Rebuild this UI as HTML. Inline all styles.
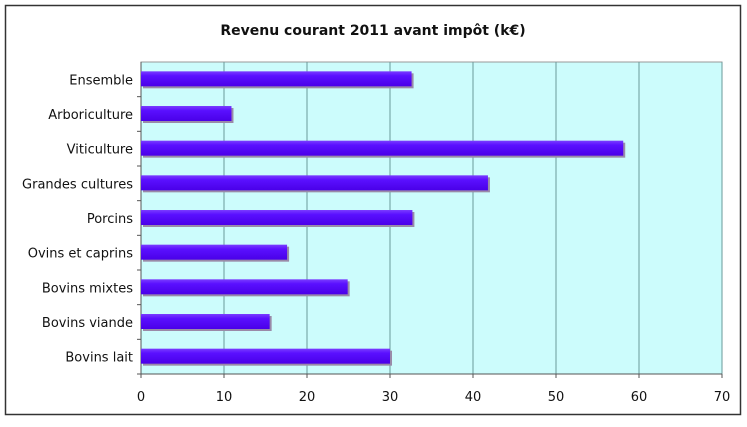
<!DOCTYPE html>
<html><head><meta charset="utf-8"><style>
body{margin:0;background:#fff;width:747px;height:423px;overflow:hidden;font-family:"DejaVu Sans","Liberation Sans",sans-serif;}
</style></head><body>
<svg width="747" height="423">
<defs><linearGradient id="g" x1="0" y1="0" x2="0" y2="1"><stop offset="0" stop-color="#7a3cff"/><stop offset="0.3" stop-color="#5a10ff"/><stop offset="1" stop-color="#4a00e8"/></linearGradient></defs>
<rect x="5.5" y="5.5" width="735" height="409" fill="#fff" stroke="#333" stroke-width="1.5"/>
<text x="373" y="35" text-anchor="middle" font-size="14" font-weight="bold" fill="#111">Revenu courant 2011 avant impôt (k€)</text>
<g id="plot"></g>
</svg>
<script>
const categories=["Ensemble","Arboriculture","Viticulture","Grandes cultures","Porcins","Ovins et caprins","Bovins mixtes","Bovins viande","Bovins lait"];
const values=[32.6,10.9,58.1,41.8,32.7,17.6,24.9,15.5,30.0];
const ticks=[0,10,20,30,40,50,60,70];
const L=141,R=722,T=62,B=374,max=70;
const x=v=>L+(R-L)*v/max;
const step=(B-T)/categories.length;
const y=i=>T+step*(i+0.5);
const g=document.getElementById('plot');
const ns='http://www.w3.org/2000/svg';
function mk(t,a){const e=document.createElementNS(ns,t);for(const k in a)e.setAttribute(k,a[k]);g.appendChild(e);return e;}
let bg=mk('rect',{x:L,y:T,width:R-L,height:B-T,fill:'#ccfcfc',stroke:'#999'});


ticks.forEach(t=>{
 if(t>0){let l=mk('line',{x1:x(t),x2:x(t),y1:T,y2:B,stroke:'#6a9a9a','stroke-width':1});
 
 }
 let tk=mk('line',{x1:x(t),x2:x(t),y1:B,y2:B+4,stroke:'#555'});
 
 
 let tx=mk('text',{x:x(t),y:B+27,'text-anchor':'middle','font-size':13,fill:'#111'});
 tx.textContent=t;
 
 
});
let ax=mk('line',{x1:L,x2:L,y1:T,y2:B,stroke:'#555'});


let ax2=mk('line',{x1:L,x2:R,y1:B,y2:B,stroke:'#555'});


categories.forEach((c,i)=>{
 const cy=y(i);
 let tk=mk('line',{x1:L-4,x2:L,y1:T+step*(i+1),y2:T+step*(i+1),stroke:'#555'});
 
 
 let sh=mk('rect',{x:L+2,y:cy-6,width:x(values[i])-L,height:15,fill:'#9a8aa8'});
 
 
 let b=mk('rect',{x:L,y:cy-8,width:x(values[i])-L,height:15,fill:'url(#g)'});
 
 
 let t=mk('text',{x:L-8,y:cy+5,'text-anchor':'end','font-size':13,fill:'#111'});
 t.textContent=c;
 
 
});
</script>
</body></html>
